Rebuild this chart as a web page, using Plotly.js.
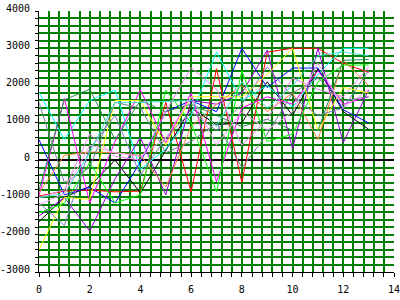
<!DOCTYPE html>
<html>
<head>
<meta charset="utf-8">
<script src="https://cdn.plot.ly/plotly-3.0.1.min.js"></script>
<style>
html,body{margin:0;padding:0;background:#fff;}
#chart{width:400px;height:300px;}
</style>
</head>
<body>
<div id="chart"></div>
<script>
const xs = [0,1,2,3,4,5,6,7,8,9,10,11,12,13];

const red        = [-960,-830,-800,-850,-830,1550,-850,2450,-600,2900,3000,3000,2600,2350];
const black      = [-1650,-1000,-700,0,-880,250,1400,950,1000,2100,1200,2450,1300,830];
const blue       = [550,-930,-730,-1150,-50,1300,1600,1300,3000,1950,2470,2470,1350,1000];
const cyan       = [1820,550,1600,1880,-250,300,1200,2900,1600,2000,1420,2300,3000,3000];
const magenta    = [-950,1650,-1150,500,1880,470,1800,-580,1400,1700,1500,2400,1500,1700];
const darkviolet = [-1500,-1000,-1900,-500,600,-930,1600,1500,1800,2950,300,3000,470,1880];
const yellow     = [-2400,-1000,-1050,1600,1600,400,1700,1700,1700,2300,3000,800,1950,1800];
const orange     = [-880,130,220,200,130,-720,900,1500,2000,1300,1800,550,2680,2000];
const lime       = [-1420,-1150,-70,-1150,-930,1880,1000,-850,2400,500,700,2100,2550,2550];
const seagreen   = [-800,1620,1900,550,1600,1300,1500,1200,900,1100,800,800,2680,2700];
const slate1     = [1550,-600,-200,1550,1400,200,500,1000,-200,700,1800,2200,1600,1700];
const slate2     = [-1150,-1750,300,1200,-400,600,1300,800,1500,2500,1700,1200,1400,2400];
const violet     = [-1000,-800,700,100,0,1300,2480,1900,400,1100,2200,1900,1700,2500];
const turquoise  = [-1000,-900,200,1550,1550,1580,1600,900,2100,1400,2000,2800,2900,2800];
const pink       = [-1200,-900,400,200,100,600,1700,400,1300,800,1300,2600,1400,1900];

const seriesList = [
  [red,'#ff0000'],[black,'#000000'],[blue,'#0000ff'],[cyan,'#00ffff'],
  [magenta,'#ff00ff'],[darkviolet,'#9400d3'],[yellow,'#ffff00'],[orange,'#ff8040'],
  [lime,'#00ff00'],[seagreen,'#2e8b57'],[slate1,'#708090'],[slate2,'#8080c0'],
  [violet,'#ee82ee'],[turquoise,'#40e0d0'],[pink,'#ffa0ff']
];

const xTickVals = [0,2,4,6,8,10,12,14];
const xTickText = ['0','2','4','6','8','10','12','14'];
const yTickVals = [-3000,-2000,-1000,0,1000,2000,3000,4000];
const yTickText = ['-3000','-2000','-1000','0','1000','2000','3000','4000'];

const traces = seriesList.map(([ys,c]) => ({
  x: xs, y: ys, type:'scatter', mode:'lines',
  line:{color:c, width:1}, hoverinfo:'skip'
}));

const tickFont = {family:'DejaVu Sans Mono, monospace', size:10, color:'#000'};
const gridC = '#008000';
const gw = 2;

const layout = {
  width:400, height:300,
  margin:{l:39, r:6, t:11, b:28, pad:0},
  paper_bgcolor:'#fff', plot_bgcolor:'#fff',
  showlegend:false,
  xaxis:{
    range:[0,14], tickmode:'array', tickvals:xTickVals, ticktext:xTickText,
    showgrid:true, gridcolor:gridC, gridwidth:gw,
    ticks:'outside', ticklen:4, tickwidth:1, tickcolor:'#000',
    showline:true, linecolor:'#000', linewidth:1, zeroline:false,
    tickfont:tickFont, ticklabelstandoff:4, ticklabeloverflow:'allow',
    minor:{dtick:0.4, tick0:0, showgrid:true, gridcolor:gridC, gridwidth:gw,
           ticks:'outside', ticklen:4, tickcolor:'#000', tickwidth:1}
  },
  yaxis:{
    range:[-3000,4000], tickmode:'array', tickvals:yTickVals, ticktext:yTickText,
    showgrid:true, gridcolor:gridC, gridwidth:gw,
    ticks:'outside', ticklen:3, tickwidth:1, tickcolor:'#000',
    showline:true, linecolor:'#000', linewidth:1,
    zeroline:true, zerolinecolor:'#000', zerolinewidth:2,
    tickfont:tickFont, ticklabelstandoff:3, ticklabeloverflow:'allow',
    minor:{dtick:200, tick0:0, showgrid:true, gridcolor:gridC, gridwidth:gw,
           ticks:'outside', ticklen:3, tickcolor:'#000', tickwidth:1}
  }
};

Plotly.newPlot('chart', traces, layout, {staticPlot:true, displayModeBar:false}).then(() => {
  document.querySelectorAll('#chart .ytick text').forEach(t => {
    const y = parseFloat(t.getAttribute('y') || '0');
    t.setAttribute('y', String(y - 3));
  });
});
</script>
</body>
</html>
